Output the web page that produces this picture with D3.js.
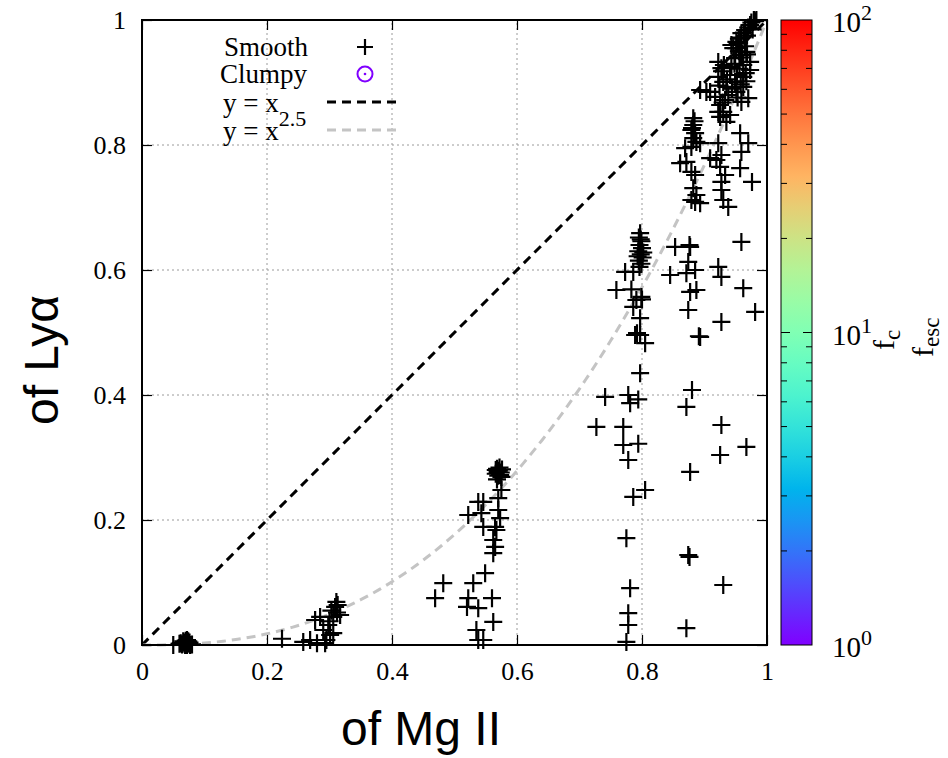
<!DOCTYPE html>
<html>
<head>
<meta charset="utf-8">
<script src="https://cdn.jsdelivr.net/npm/d3@7"></script>
<style>
  body { margin: 0; background: #fff; }
  svg { display: block; }
</style>
</head>
<body>
<div class="chart"></div>
<script>
// escape fractions: [MgII, Lya]
var clusterLow = [
  [0.050, 0.000], [0.060, 0.002], [0.064, 0.001], [0.067, 0.004], [0.069, 0.000],
  [0.071, 0.005], [0.073, 0.002], [0.075, 0.003], [0.077, 0.000], [0.070, 0.007],
  [0.066, 0.006], [0.072, 0.008], [0.074, 0.006], [0.068, 0.002], [0.076, 0.004],
  [0.080, 0.001], [0.062, 0.003], [0.072, 0.000]
];
var cluster03 = [
  [0.224, 0.010], [0.258, 0.005], [0.269, 0.008], [0.277, 0.040], [0.285, 0.045],
  [0.290, 0.024], [0.295, 0.008], [0.298, 0.032], [0.306, 0.045], [0.309, 0.061],
  [0.311, 0.069], [0.301, 0.016], [0.280, 0.003], [0.293, 0.003], [0.306, 0.019],
  [0.317, 0.048], [0.303, 0.055], [0.312, 0.052], [0.300, 0.038], [0.313, 0.064]
];
var cluster057 = [
  [0.568, 0.282], [0.571, 0.279], [0.574, 0.276], [0.566, 0.274], [0.570, 0.271],
  [0.575, 0.269], [0.572, 0.284], [0.568, 0.265], [0.575, 0.248], [0.570, 0.235],
  [0.538, 0.229], [0.546, 0.229], [0.522, 0.208], [0.543, 0.211], [0.570, 0.216],
  [0.573, 0.203], [0.546, 0.189], [0.565, 0.189], [0.567, 0.184], [0.562, 0.168],
  [0.565, 0.157], [0.562, 0.147], [0.549, 0.115], [0.530, 0.099], [0.482, 0.099],
  [0.469, 0.075], [0.522, 0.075], [0.560, 0.075], [0.520, 0.061], [0.538, 0.059],
  [0.562, 0.037], [0.535, 0.024], [0.538, 0.008], [0.546, 0.008], [0.566, 0.280],
  [0.576, 0.281], [0.569, 0.277], [0.573, 0.272]
];
var cluster08 = [
  [0.797, 0.659], [0.795, 0.652], [0.799, 0.646], [0.796, 0.640], [0.800, 0.635],
  [0.794, 0.630], [0.798, 0.625], [0.801, 0.620], [0.795, 0.615], [0.799, 0.610],
  [0.796, 0.605], [0.773, 0.597], [0.786, 0.597], [0.759, 0.568], [0.783, 0.569],
  [0.799, 0.557], [0.791, 0.552], [0.786, 0.541], [0.797, 0.523], [0.789, 0.496],
  [0.797, 0.496], [0.805, 0.483], [0.797, 0.435], [0.741, 0.397], [0.778, 0.400],
  [0.794, 0.393], [0.781, 0.387], [0.727, 0.349], [0.770, 0.349], [0.770, 0.320],
  [0.794, 0.322], [0.778, 0.296], [0.786, 0.237], [0.805, 0.248], [0.775, 0.171],
  [0.781, 0.091], [0.778, 0.051], [0.778, 0.032], [0.775, 0.005], [0.798, 0.649],
  [0.802, 0.628], [0.793, 0.622], [0.792, 0.499], [0.800, 0.553]
];
var cluster088 = [
  [0.853, 0.637], [0.877, 0.637], [0.845, 0.592], [0.874, 0.613], [0.871, 0.595],
  [0.885, 0.600], [0.877, 0.565], [0.887, 0.568], [0.874, 0.536], [0.893, 0.493],
  [0.880, 0.408], [0.871, 0.381], [0.877, 0.277], [0.874, 0.144], [0.871, 0.027],
  [0.882, 0.843], [0.882, 0.832], [0.879, 0.824], [0.885, 0.819], [0.882, 0.811],
  [0.887, 0.805], [0.869, 0.795], [0.879, 0.797], [0.893, 0.803], [0.861, 0.771],
  [0.871, 0.773], [0.879, 0.757], [0.885, 0.752], [0.882, 0.731], [0.887, 0.720],
  [0.885, 0.709], [0.893, 0.707], [0.879, 0.712], [0.884, 0.838], [0.880, 0.827],
  [0.876, 0.141], [0.891, 0.494], [0.876, 0.640]
];
var cluster093 = [
  [0.922, 0.605], [0.927, 0.589], [0.927, 0.517], [0.927, 0.352], [0.925, 0.304],
  [0.930, 0.096], [0.909, 0.885], [0.922, 0.933], [0.927, 0.923], [0.922, 0.909],
  [0.930, 0.901], [0.935, 0.893], [0.917, 0.877], [0.933, 0.872], [0.925, 0.864],
  [0.930, 0.853], [0.925, 0.845], [0.935, 0.837], [0.941, 0.912], [0.893, 0.888],
  [0.903, 0.885], [0.922, 0.853], [0.941, 0.848], [0.922, 0.803], [0.909, 0.779],
  [0.919, 0.776], [0.927, 0.784], [0.925, 0.765], [0.933, 0.752], [0.927, 0.741],
  [0.927, 0.728], [0.930, 0.712], [0.938, 0.701], [0.928, 0.918], [0.936, 0.905],
  [0.931, 0.928], [0.924, 0.895], [0.938, 0.880], [0.929, 0.868]
];
var cluster097 = [
  [0.959, 0.645], [0.962, 0.571], [0.981, 0.533], [0.967, 0.317], [0.951, 0.955],
  [0.946, 0.955], [0.943, 0.960], [0.951, 0.965], [0.959, 0.979], [0.965, 0.984],
  [0.973, 0.992], [0.979, 1.000], [0.983, 1.000], [0.949, 0.939], [0.957, 0.944],
  [0.967, 0.949], [0.943, 0.925], [0.962, 0.928], [0.973, 0.933], [0.973, 0.920],
  [0.962, 0.909], [0.949, 0.901], [0.951, 0.885], [0.962, 0.893], [0.970, 0.875],
  [0.959, 0.869], [0.957, 0.819], [0.970, 0.803], [0.959, 0.789], [0.957, 0.763],
  [0.976, 0.741], [0.955, 0.970], [0.968, 0.975], [0.960, 0.940], [0.975, 0.996],
  [0.970, 0.988], [0.963, 0.980], [0.958, 0.972], [0.953, 0.962], [0.955, 0.950],
  [0.965, 0.958], [0.968, 0.945], [0.948, 0.930], [0.956, 0.922], [0.966, 0.915],
  [0.952, 0.912], [0.958, 0.897], [0.944, 0.890], [0.967, 0.902], [0.953, 0.876],
  [0.981, 0.998], [0.977, 0.985]
];

var smooth = [].concat(clusterLow, cluster03, cluster057, cluster08, cluster088, cluster093, cluster097);

var xTicks = [0, 0.2, 0.4, 0.6, 0.8, 1];
var yTicks = [0, 0.2, 0.4, 0.6, 0.8, 1];
var cbTicks = [1, 10, 100];
var cbMinor = [2, 3, 4, 5, 6, 7, 8, 9, 20, 30, 40, 50, 60, 70, 80, 90];

//Width and height
var w = 948;
var h = 758;
var serif = "'Liberation Serif', 'Times New Roman', serif";
var sans = "'Liberation Sans', Arial, sans-serif";

var svg = d3.select(".chart")
  .append("svg")
  .attr("width", w)
  .attr("height", h);

var x = d3.scaleLinear().domain([0, 1]).range([142, 767]);
var y = d3.scaleLinear().domain([0, 1]).range([645, 20]);

// grid
svg.append("g").selectAll("line")
  .data(xTicks.slice(1, -1))
  .enter().append("line")
  .attr("x1", function(d) { return x(d); })
  .attr("x2", function(d) { return x(d); })
  .attr("y1", y(0)).attr("y2", y(1))
  .attr("stroke", "#9a9a9a").attr("stroke-width", 1)
  .attr("stroke-dasharray", "2,3");
svg.append("g").selectAll("line")
  .data(yTicks.slice(1, -1))
  .enter().append("line")
  .attr("y1", function(d) { return y(d); })
  .attr("y2", function(d) { return y(d); })
  .attr("x1", x(0)).attr("x2", x(1))
  .attr("stroke", "#9a9a9a").attr("stroke-width", 1)
  .attr("stroke-dasharray", "2,3");

// model lines
var line = d3.line()
  .x(function(d) { return x(d); });
svg.append("path")
  .attr("d", line.y(function(d) { return y(d); })([0, 1]))
  .attr("fill", "none").attr("stroke", "#000").attr("stroke-width", 3)
  .attr("stroke-dasharray", "9,6");
svg.append("path")
  .attr("d", line.y(function(d) { return y(Math.pow(d, 2.5)); })(d3.range(0, 1.0001, 0.01)))
  .attr("fill", "none").attr("stroke", "#c4c4c4").attr("stroke-width", 3)
  .attr("stroke-dasharray", "9,6");

// axes (ticks pointing in)
function axisStyle(g) {
  g.select(".domain").remove();
  g.selectAll("line").attr("stroke", "#000").attr("stroke-width", 1.2);
  g.selectAll("text").attr("font-family", serif).attr("font-size", 26).attr("fill", "#000");
}
var fmt = function(d) { return d3.format("")(d); };
svg.append("g").attr("transform", "translate(0,645)")
  .call(d3.axisBottom(x).tickValues(xTicks).tickSize(-10).tickPadding(17).tickFormat(fmt))
  .call(axisStyle);
svg.append("g").attr("transform", "translate(0,20)")
  .call(d3.axisTop(x).tickValues(xTicks).tickSize(-10).tickFormat(""))
  .call(axisStyle);
svg.append("g").attr("transform", "translate(142,0)")
  .call(d3.axisLeft(y).tickValues(yTicks).tickSize(-10).tickPadding(16).tickFormat(fmt))
  .call(axisStyle);
svg.append("g").attr("transform", "translate(767,0)")
  .call(d3.axisRight(y).tickValues(yTicks).tickSize(-10).tickFormat(""))
  .call(axisStyle);

// frame
svg.append("rect")
  .attr("x", x(0)).attr("y", y(1))
  .attr("width", x(1) - x(0)).attr("height", y(0) - y(1))
  .attr("fill", "none").attr("stroke", "#000").attr("stroke-width", 2);

// points
function cross(sel, s) {
  sel.append("path")
    .attr("d", "M" + (-s) + ",0H" + s + "M0," + (-s) + "V" + s)
    .attr("stroke", "#000").attr("stroke-width", 2.2).attr("fill", "none");
}
svg.append("g").selectAll("g")
  .data(smooth)
  .enter().append("g")
  .attr("transform", function(d) { return "translate(" + x(d[0]) + "," + y(d[1]) + ")"; })
  .call(cross, 9);

// legend
var leg = svg.append("g").attr("font-family", serif).attr("font-size", 27);
leg.append("text").attr("x", 308).attr("y", 56).attr("text-anchor", "end").text("Smooth");
leg.append("g").attr("transform", "translate(365,47)").call(cross, 8);
leg.append("text").attr("x", 307).attr("y", 83).attr("text-anchor", "end").text("Clumpy");
leg.append("circle").attr("cx", 365).attr("cy", 74).attr("r", 7.5)
  .attr("fill", "none").attr("stroke", "#8000ff").attr("stroke-width", 2);
leg.append("circle").attr("cx", 365).attr("cy", 74).attr("r", 1.3).attr("fill", "#8000ff");
leg.append("text").attr("x", 223).attr("y", 112).text("y = x");
leg.append("line").attr("x1", 327).attr("x2", 402).attr("y1", 102).attr("y2", 102)
  .attr("stroke", "#000").attr("stroke-width", 3).attr("stroke-dasharray", "9,6");
var t2 = leg.append("text").attr("x", 223).attr("y", 140);
t2.append("tspan").text("y = x");
t2.append("tspan").attr("dy", -14).attr("font-size", 22).text("2.5");
leg.append("line").attr("x1", 327).attr("x2", 402).attr("y1", 130).attr("y2", 130)
  .attr("stroke", "#c4c4c4").attr("stroke-width", 3).attr("stroke-dasharray", "9,6");

// colour bar
function palette(t) {
  var r = Math.abs(2 * t - 0.5), g = Math.sin(Math.PI * t), b = Math.cos(Math.PI / 2 * t);
  var c = function(v) { return Math.round(255 * Math.max(0, Math.min(1, v))); };
  return "rgb(" + c(r) + "," + c(g) + "," + c(b) + ")";
}
var cb = d3.scaleLog().domain([1, 100]).range([645, 20]);
var grad = svg.append("defs").append("linearGradient")
  .attr("id", "cbgrad").attr("x1", 0).attr("y1", 1).attr("x2", 0).attr("y2", 0);
grad.selectAll("stop")
  .data(d3.range(0, 1.0001, 0.05))
  .enter().append("stop")
  .attr("offset", function(d) { return d; })
  .attr("stop-color", function(d) { return palette(d); });
svg.append("rect")
  .attr("x", 781).attr("y", cb(100)).attr("width", 31).attr("height", cb(1) - cb(100))
  .attr("fill", "url(#cbgrad)").attr("stroke", "#000").attr("stroke-width", 1);
var cbt = svg.append("g");
cbt.selectAll("path")
  .data(cbMinor.concat([10]))
  .enter().append("path")
  .attr("d", function(d) {
    var l = d === 10 ? 9 : 6, yy = cb(d);
    return "M781," + yy + "h" + l + "M812," + yy + "h" + (-l);
  })
  .attr("stroke", "#000").attr("stroke-width", 1);
var cbl = svg.append("g").attr("font-family", serif).attr("font-size", 29);
cbl.selectAll("text")
  .data(cbTicks)
  .enter().append("text")
  .attr("x", 832)
  .attr("y", function(d) { return cb(d) + 12; })
  .each(function(d) {
    var t = d3.select(this);
    t.append("tspan").text("10");
    t.append("tspan").attr("dy", -12).attr("font-size", 22).text(Math.round(Math.log10(d)));
  });

// colour bar labels
var fc = svg.append("text").attr("font-family", serif).attr("font-size", 30)
  .attr("transform", "translate(894,350) rotate(-90)");
fc.append("tspan").text("f");
fc.append("tspan").attr("dy", 6).attr("font-size", 23).text("c");
var fe = svg.append("text").attr("font-family", serif).attr("font-size", 30)
  .attr("transform", "translate(933,357) rotate(-90)");
fe.append("tspan").text("f");
fe.append("tspan").attr("dy", 6).attr("font-size", 23).text("esc");

// axis titles
svg.append("text")
  .attr("x", 421).attr("y", 745).attr("text-anchor", "middle")
  .attr("font-family", sans).attr("font-size", 48).text("of Mg II");
svg.append("text")
  .attr("transform", "translate(58,360) rotate(-90)").attr("text-anchor", "middle")
  .attr("font-family", sans).attr("font-size", 48).text("of Lyα");
</script>
</body>
</html>
